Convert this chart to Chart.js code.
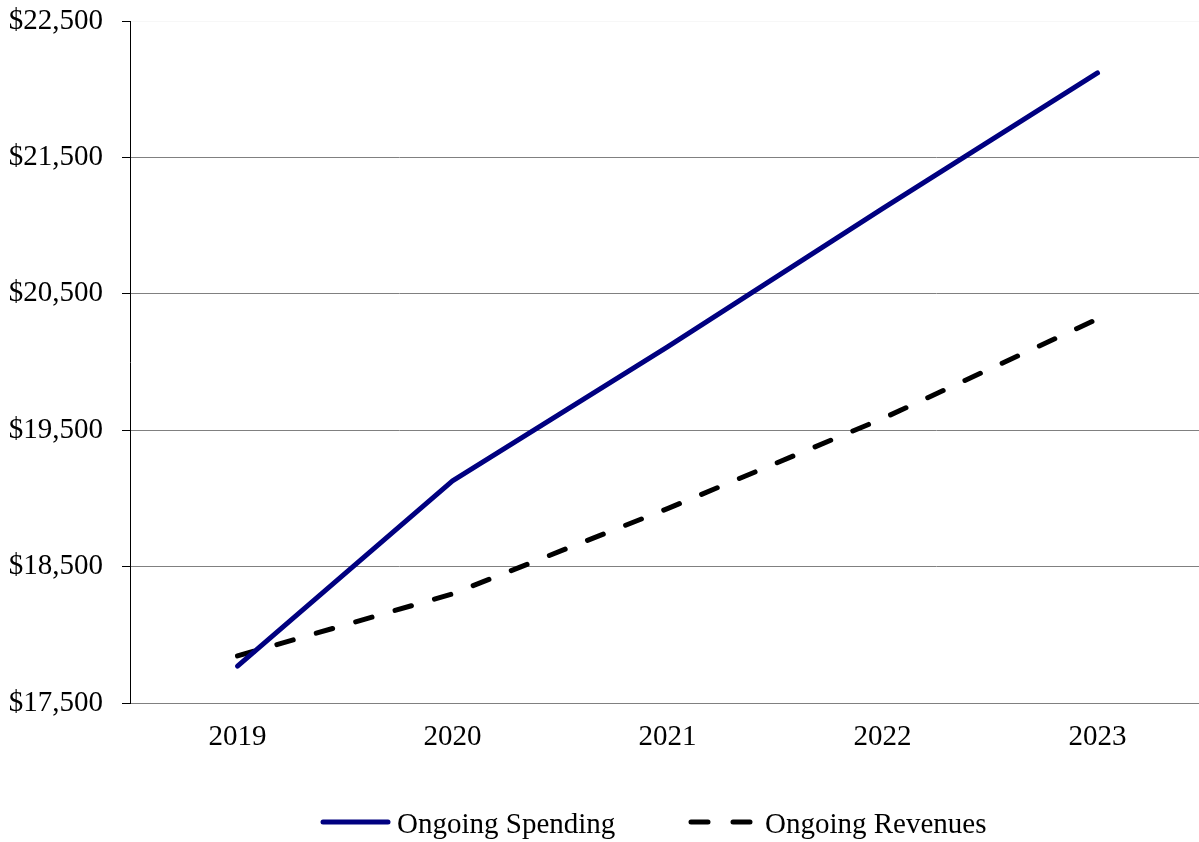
<!DOCTYPE html>
<html>
<head>
<meta charset="utf-8">
<script src="https://cdn.jsdelivr.net/npm/chart.js@4"></script>
<style>
  body { margin: 0; overflow: hidden; background: #fff; }
  #wrap { position: relative; width: 1210px; height: 842px; }
  #legend { position: absolute; left: 0; top: 803px; width: 1199px; height: 40px;
            font-family: 'Liberation Serif', 'Times New Roman', serif; font-size: 29px; color: #000; }
  .item { position: absolute; top: 0; height: 40px; line-height: 40px; white-space: nowrap; }
  .item svg { position: absolute; top: 0; }
  .item span { position: absolute; top: 0; }
</style>
</head>
<body>
<div id="wrap">
  <canvas id="myChart"></canvas>
  <div id="legend">
    <div class="item" style="left:315px">
      <svg width="80" height="40"><line x1="8" y1="19" x2="73" y2="19" stroke="#000080" stroke-width="5" stroke-linecap="round"/></svg>
      <span style="left:82px">Ongoing Spending</span>
    </div>
    <div class="item" style="left:685px">
      <svg width="80" height="40"><line x1="6" y1="19" x2="70" y2="19" stroke="#000" stroke-width="5" stroke-linecap="round" stroke-dasharray="17 25"/></svg>
      <span style="left:80px">Ongoing Revenues</span>
    </div>
  </div>
</div>
<script>
// Datos del gráfico
const years = ["2019", "2020", "2021", "2022", "2023"];
const ongoingSpending = [17771, 19128, 20110, 21125, 22119];
const ongoingRevenues = [17845, 18300, 18925, 19585, 20315];
const yTicks = [17500, 18500, 19500, 20500, 21500, 22500];

const serif = "'Liberation Serif', 'Times New Roman', serif";

const ctx = document.getElementById("myChart").getContext("2d");
new Chart(ctx, {
    type: "line",
    data: {
        labels: years,
        datasets: [{
            label: "Ongoing Spending",
            data: ongoingSpending,
            borderColor: "#000080",
            borderWidth: 5,
            borderCapStyle: "round",
            borderJoinStyle: "round",
            pointRadius: 0,
            tension: 0,
        }, {
            label: "Ongoing Revenues",
            data: ongoingRevenues,
            borderColor: "#000",
            borderWidth: 5,
            borderDash: [17, 24],
            borderCapStyle: "round",
            pointRadius: 0,
            tension: 0,
        }],
    },
    options: {
        responsive: true,
        maintainAspectRatio: false,
        animation: false,
        devicePixelRatio: 1,
        layout: { padding: { top: 21, right: 5, bottom: 0, left: 0 } },
        plugins: {
            legend: { display: false },
            tooltip: { enabled: false },
        },
        scales: {
            x: {
                offset: true,
                grid: { display: false, drawTicks: false },
                border: { display: true, color: "#808080", width: 1 },
                ticks: { color: "#000", padding: 17, font: { family: serif, size: 29 } },
                afterFit: (scale) => { scale.height = 139; },
            },
            y: {
                min: yTicks[0],
                max: yTicks[yTicks.length - 1],
                afterBuildTicks: (scale) => { scale.ticks = yTicks.map(v => ({ value: v })); },
                grid: {
                    color: (c) => c.tick && c.tick.value === yTicks[yTicks.length - 1] ? "rgba(0,0,0,0.03)" : "#808080",
                    tickColor: "#000",
                    tickLength: 8,
                    lineWidth: 1,
                },
                border: { display: true, color: "#000", width: 1 },
                ticks: {
                    color: "#000",
                    padding: 19,
                    font: { family: serif, size: 29 },
                    callback: (v) => "$" + Number(v).toLocaleString("en-US"),
                },
                afterFit: (scale) => {
                    scale.width = 130;
                    scale.paddingTop = 0;
                    scale.paddingBottom = 0;
                },
            },
        },
    },
});
</script>
</body>
</html>
